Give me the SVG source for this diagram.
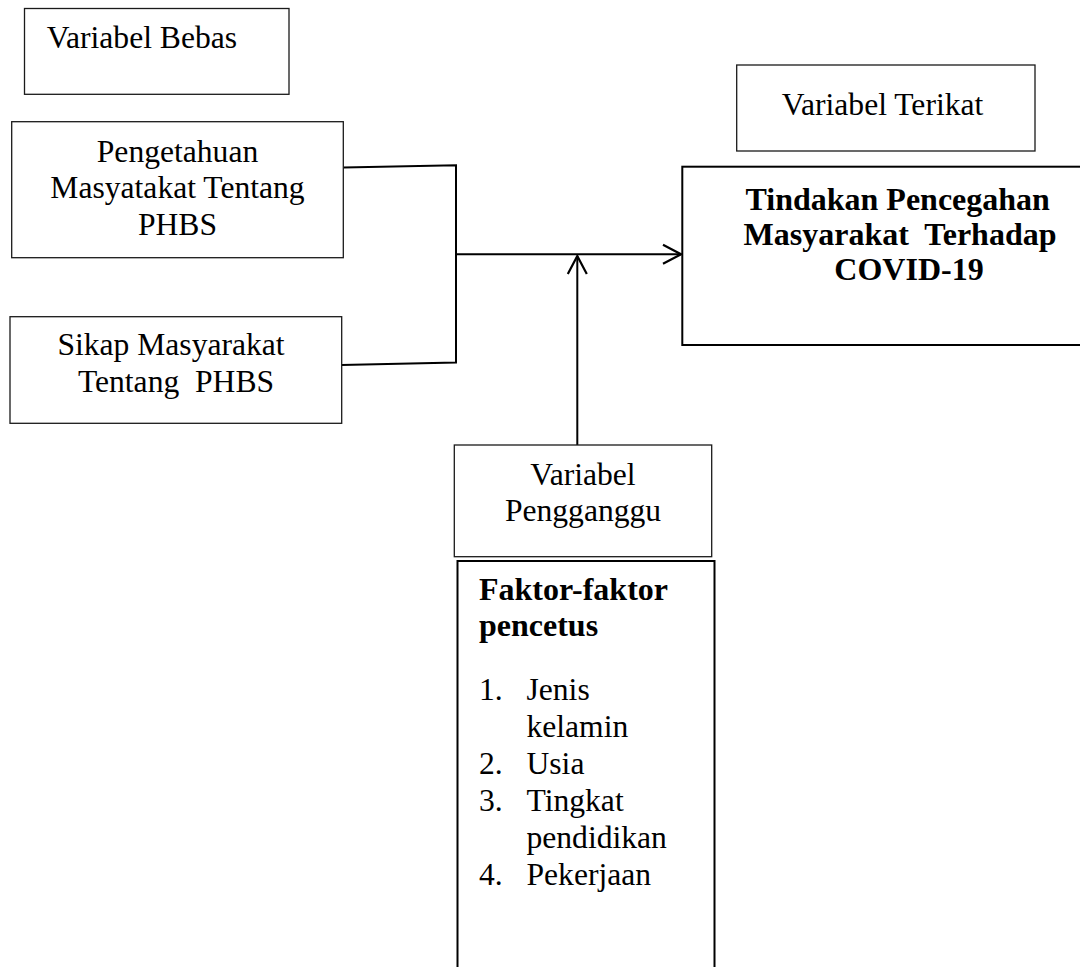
<svg xmlns="http://www.w3.org/2000/svg" width="1080" height="967" viewBox="0 0 1080 967">
  <style>
    .box { fill: #fff; stroke: #1a1a1a; stroke-width: 1.3; }
    .boxb { fill: #fff; stroke: #000; stroke-width: 2; }
    .t { font-family: "Liberation Serif", "Times New Roman", serif; font-size: 31.6px; fill: #000; }
    .tb { font-family: "Liberation Serif", "Times New Roman", serif; font-size: 32px; font-weight: bold; fill: #000; }
    .c { text-anchor: middle; }
    .ln { fill: none; stroke: #000; stroke-width: 2; }
  </style>
  <defs>
    <marker id="open" viewBox="-20 -12 22 24" refX="0" refY="0" markerWidth="22" markerHeight="24" markerUnits="userSpaceOnUse" orient="auto">
      <path d="M -18 -9.5 L 0 0 L -18 9.5" fill="none" stroke="#000" stroke-width="2.2"/>
    </marker>
  </defs>
  <rect width="1080" height="967" fill="#fff"/>

  <g id="connectors">
    <path class="ln" d="M 343.5 167.5 L 456 165.3 L 456 362.5 L 341.5 365"/>
    <line class="ln" x1="456" y1="254.3" x2="681" y2="254.3" marker-end="url(#open)"/>
    <line class="ln" x1="577.3" y1="445" x2="577.3" y2="256" marker-end="url(#open)"/>
  </g>

  <g id="label-bebas">
    <rect class="box" x="24.5" y="8.5" width="264.5" height="85.8"/>
    <text class="t" x="46.7" y="48">Variabel Bebas</text>
  </g>

  <g id="pengetahuan">
    <rect class="box" x="11.7" y="121.7" width="331.6" height="136"/>
    <text class="t c" x="177.5" y="161.7">Pengetahuan</text>
    <text class="t c" x="177.5" y="198.3">Masyatakat Tentang</text>
    <text class="t c" x="177.5" y="235">PHBS</text>
  </g>

  <g id="sikap">
    <rect class="box" x="10" y="316.7" width="331.7" height="106.6"/>
    <text class="t c" x="171" y="355">Sikap Masyarakat</text>
    <text class="t c" x="176" y="391.7" xml:space="preserve">Tentang  PHBS</text>
  </g>

  <g id="label-terikat">
    <rect class="box" x="736.7" y="65" width="298.3" height="86"/>
    <text class="t" x="781.7" y="115">Variabel Terikat</text>
  </g>

  <g id="tindakan">
    <rect class="boxb" x="682.3" y="166.7" width="420" height="178.3"/>
    <text class="tb c" x="897.7" y="210">Tindakan Pencegahan</text>
    <text class="tb c" x="900" y="245" xml:space="preserve">Masyarakat  Terhadap</text>
    <text class="tb c" x="909" y="280">COVID-19</text>
  </g>

  <g id="label-pengganggu">
    <rect class="box" x="454.3" y="445" width="257.4" height="111.7"/>
    <text class="t c" x="583" y="485">Variabel</text>
    <text class="t c" x="583" y="521">Pengganggu</text>
  </g>

  <g id="faktor">
    <rect class="boxb" x="457.5" y="561" width="257" height="420"/>
    <text class="tb" x="479" y="600">Faktor-faktor</text>
    <text class="tb" x="479" y="635.5">pencetus</text>
    <text class="t" x="479" y="700">1.</text>
    <text class="t" x="526.5" y="700">Jenis</text>
    <text class="t" x="526.5" y="737">kelamin</text>
    <text class="t" x="479" y="773.5">2.</text>
    <text class="t" x="526.5" y="773.5">Usia</text>
    <text class="t" x="479" y="810.5">3.</text>
    <text class="t" x="526.5" y="810.5">Tingkat</text>
    <text class="t" x="526.5" y="847.5">pendidikan</text>
    <text class="t" x="479" y="884.5">4.</text>
    <text class="t" x="526.5" y="884.5">Pekerjaan</text>
  </g>
</svg>
